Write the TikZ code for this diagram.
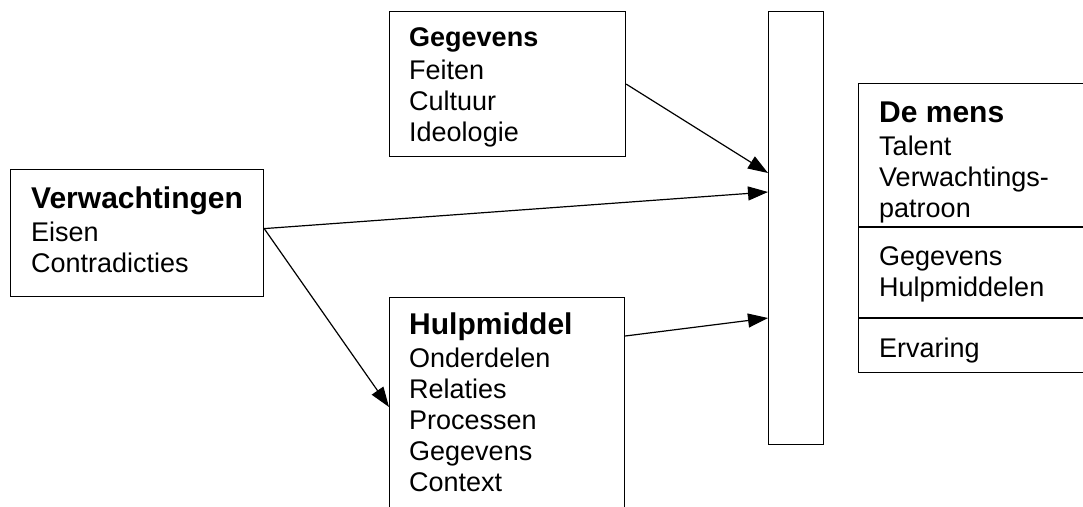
\documentclass[tikz,border=0pt]{standalone}
\usepackage{fontspec}
\setmainfont{Liberation Sans}
\usetikzlibrary{arrows.meta}
\tikzstyle{box}=[draw, line width=1.2pt, inner sep=0pt, anchor=north west]
\tikzstyle{txt}=[inner sep=0pt, anchor=north west, align=left, font=\fontsize{27}{31}\selectfont]
\tikzstyle{pijl}=[-{Triangle[length=20pt,width=14pt]}, line width=1.2pt]
\newcommand{\kop}[1]{{\fontsize{30}{31}\selectfont\bfseries #1}\strut}
\newcommand{\deelA}{144}
\newcommand{\deelB}{235}

\begin{document}
\begin{tikzpicture}[x=1pt, y=-1pt]
		\useasboundingbox (0,0) rectangle (1083,506);
		\clip (0,0) rectangle (1083,506);

		%The boxes
		\node[box, minimum width=253pt, minimum height=127pt] (verw) at (10,169) {};
		\node[box, minimum width=236pt, minimum height=145pt] (geg) at (389,11) {};
		\node[box, minimum width=235pt, minimum height=230pt] (hulp) at (389,297) {};
		\node[box, minimum width=55pt, minimum height=433pt] (bar) at (768,11) {};
		\node[box, minimum width=232pt, minimum height=289pt] (mens) at (858,83) {};
		\draw[line width=1.2pt] ([yshift=-\deelA pt]mens.north west) -- ([yshift=-\deelA pt]mens.north east);
		\draw[line width=1.2pt] ([yshift=-\deelB pt]mens.north west) -- ([yshift=-\deelB pt]mens.north east);

		%The texts
		\node[txt] (verwtxt) at (31,186.3) {\kop{Verwachtingen}\\[2pt] Eisen\\ Contradicties};
		\node[txt] (gegtxt) at (409,24.3) {\textbf{Gegevens}\strut\\[2pt] Feiten\\ Cultuur\\ Ideologie};
		\node[txt] (hulptxt) at (409,312.3) {\kop{Hulpmiddel}\\[2pt] Onderdelen\\ Relaties\\ Processen\\ Gegevens\\ Context};
		\node[txt] (menstxt) at (879,100.3) {\kop{De mens}\\[2pt] Talent\\ Verwachtings-\\ patroon};
		\node[txt] (menstxtb) at (879,243.3) {Gegevens\strut\\ Hulpmiddelen};
		\node[txt] (menstxtc) at (879,335.3) {Ervaring\strut};

		%The arrows
		\draw[pijl] (geg.east) -- ([yshift=-162pt]bar.north west);
		\draw[pijl] ([yshift=4.5pt]verw.east) -- ([yshift=-181pt]bar.north west);
		\draw[pijl] ([yshift=4.5pt]verw.east) -- ([yshift=-110pt]hulp.north west);
		\draw[pijl] ([yshift=-39pt]hulp.north east) -- ([yshift=-307pt]bar.north west);
\end{tikzpicture}
\end{document}
